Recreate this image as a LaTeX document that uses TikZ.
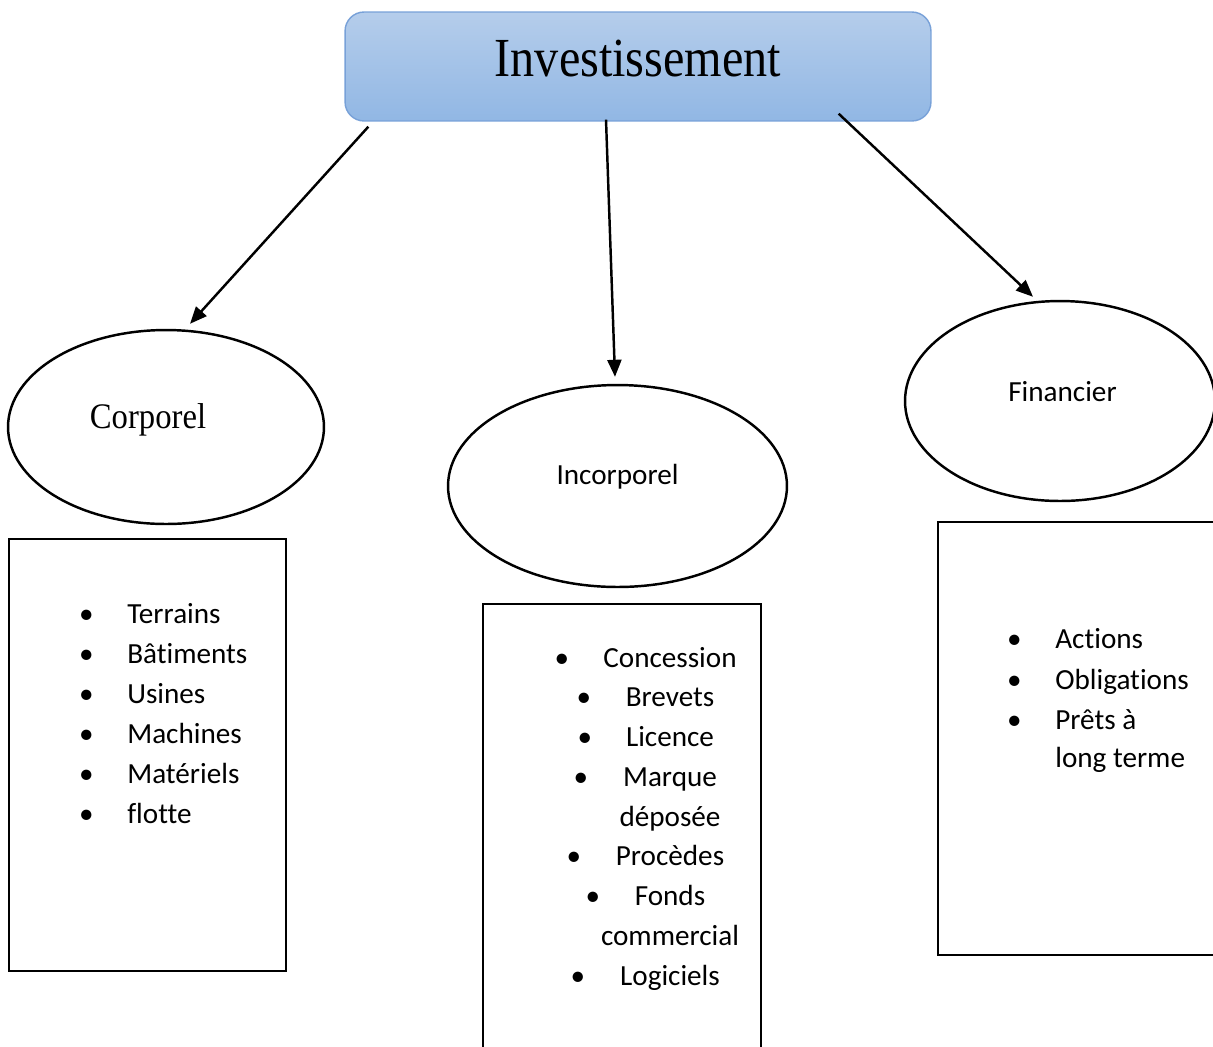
\documentclass[tikz,border=0pt]{standalone}
\usepackage{fontspec}
\setmainfont{Liberation Serif}
\newfontfamily\calib[Ligatures=NoCommon]{Carlito}
\usetikzlibrary{shapes.geometric, arrows.meta, positioning}
\definecolor{boxtop}{RGB}{181,205,235}
\definecolor{boxbot}{RGB}{145,183,228}
\definecolor{boxedge}{RGB}{120,161,216}
\tikzset{
  oval/.style={draw, ellipse, line width=1.4pt, inner sep=0pt},
  listbox/.style={draw, rectangle, line width=1.4pt, inner sep=0pt},
  item/.style={inner sep=0pt, font=\calib\fontsize{16.6}{20}\selectfont},
  link/.style={-{Triangle[length=0.34cm,width=0.28cm]}, line width=1.4pt}
}
\begin{document}
\begin{tikzpicture}[x=0.02cm,y=-0.02cm]
\useasboundingbox (0,0) rectangle (1213,1046);
% title box
\node[draw=boxedge, line width=0.8pt, rounded corners=0.38cm, top color=boxtop, bottom color=boxbot,
  minimum width=11.72cm, minimum height=2.18cm, inner sep=0pt,
  label={[font=\fontsize{28}{30}\selectfont, yshift=0.16cm]center:\scalebox{0.98}[1.12]{Investissement}}] (inv) at (638,66.5) {};
% the three kinds
\node[oval, minimum width=6.32cm, minimum height=3.88cm,
  label={[font=\fontsize{18.6}{20}\selectfont, xshift=-0.36cm, yshift=0.15cm]center:\scalebox{1}[1.1]{Corporel}}] (corp) at (166,427) {};
\node[oval, minimum width=6.78cm, minimum height=4.04cm,
  label={[item, yshift=0.18cm]center:Incorporel}] (incorp) at (617.5,486) {};
\node[oval, minimum width=6.2cm, minimum height=4.0cm,
  label={[item, xshift=0.05cm, yshift=0.19cm]center:Financier}] (fin) at (1060,401) {};
\draw[link] ([shift={(24,5)}]inv.south west) -- ([shift={(24,-5)}]corp.north);
\draw[link] ([shift={(-32,-2)}]inv.south) -- ([shift={(-2.5,-7)}]incorp.north);
\draw[link] ([shift={(-93,-8)}]inv.south east) -- ([shift={(-27,-3)}]fin.north);
% boxes
\node[listbox, minimum width=5.54cm, minimum height=8.64cm] (corpbox) at (147.5,755) {};
\node[listbox, minimum width=5.56cm, minimum height=9.12cm] (incbox) at (622,832) {};
\node[listbox, minimum width=5.74cm, minimum height=8.66cm] (finbox) at (1081.5,738.5) {};
% lists
\foreach \t [count=\i] in {Terrains, Bâtiments, Usines, Machines, Matériels, flotte}
  \node[item, anchor=base west] (cp\i) at (45,{623+40*(\i-1)}) {\makebox[1.64cm]{•}\t};
\foreach \t [count=\i] in {Concession, Brevets, Licence, Marque, déposée, Procèdes, Fonds, commercial, Logiciels}
  \node[item, anchor=base] (ip\i) at (670,{667+39.75*(\i-1)}) {\t};
\foreach \bx/\i in {562/1, 584/2, 585/3, 581/4, 574/6, 593/7, 578/9}
  \node[item, anchor=base] (ib\i) at (\bx,{667+39.75*(\i-1)}) {•};
\foreach \t/\y [count=\i] in {Actions/648, Obligations/689, {Prêts à}/729}
  \node[item, anchor=base west] (fp\i) at (973,\y) {\makebox[1.64cm]{•}\t};
\node[item, anchor=base west] (fp4) at (1055,767) {long terme};
\end{tikzpicture}
\end{document}
